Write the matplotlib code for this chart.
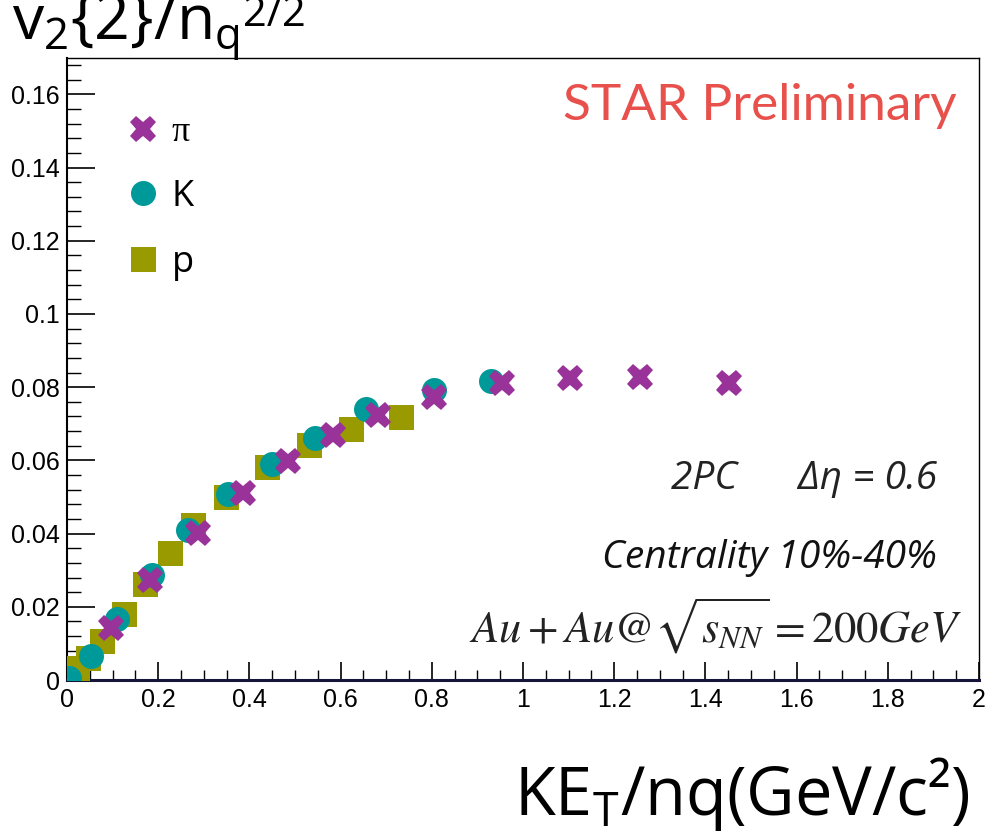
import numpy as np
import matplotlib.pyplot as plt
from matplotlib.ticker import MultipleLocator, FormatStrFormatter


# ================= data =================

pion_x = [0.097, 0.182, 0.288, 0.386, 0.485, 0.584, 0.683, 0.804, 0.955, 1.104, 1.256, 1.451]
pion_y = [0.0142, 0.0274, 0.0402, 0.0511, 0.0599, 0.0670, 0.0725, 0.0774, 0.0810, 0.0826, 0.0829, 0.0810]

kaon_x = [0.004, 0.053, 0.110, 0.187, 0.266, 0.353, 0.450, 0.544, 0.656, 0.804, 0.929]
kaon_y = [0.0005, 0.0066, 0.0167, 0.0287, 0.0410, 0.0509, 0.0591, 0.0662, 0.0739, 0.0793, 0.0818]

proton_x = [0.022, 0.046, 0.077, 0.125, 0.171, 0.226, 0.277, 0.349, 0.439, 0.531, 0.623, 0.733]
proton_y = [0.0033, 0.0060, 0.0107, 0.0181, 0.0263, 0.0347, 0.0424, 0.0501, 0.0583, 0.0643, 0.0687, 0.0719]

PION_COLOR = "#993399"
KAON_COLOR = "#009999"
PROTON_COLOR = "#999900"

SANS = ["Open Sans", "DejaVu Sans"]
LATO = ["Lato", "DejaVu Sans"]
TICK_FONT = ["Liberation Sans", "DejaVu Sans"]


# ================= figure =================

fig = plt.figure(figsize=(10, 8.36), dpi=100)
ax = fig.add_axes([0.067, 0.1866, 0.912, 0.7444])

ax.plot(proton_x, proton_y, "s", color=PROTON_COLOR, markersize=18,
        markeredgewidth=0, label="p", zorder=3)
ax.plot(kaon_x, kaon_y, "o", color=KAON_COLOR, markersize=18,
        markeredgewidth=0, label="K", zorder=4)
ax.plot(pion_x, pion_y, "X", color=PION_COLOR, markersize=19,
        markeredgewidth=0, label="\u03c0", zorder=5)

ax.set_xlim(0, 2)
ax.set_ylim(0, 0.17)

# ROOT-like ticks
ax.xaxis.set_major_locator(MultipleLocator(0.2))
ax.xaxis.set_minor_locator(MultipleLocator(0.05))
ax.yaxis.set_major_locator(MultipleLocator(0.02))
ax.yaxis.set_minor_locator(MultipleLocator(0.004))
ax.xaxis.set_major_formatter(FormatStrFormatter("%g"))
ax.yaxis.set_major_formatter(FormatStrFormatter("%g"))

ax.tick_params(axis="x", which="major", direction="in", length=13, width=1.2,
               pad=6, top=False, labelsize=18)
ax.tick_params(axis="x", which="minor", direction="in", length=7, width=1.0, top=False)
ax.tick_params(axis="y", which="major", direction="in", length=20, width=1.2,
               pad=5, right=False, labelsize=18)
ax.tick_params(axis="y", which="minor", direction="in", length=10, width=1.0, right=False)
for lab in ax.get_xticklabels() + ax.get_yticklabels():
    lab.set_family(TICK_FONT)

ax.spines["bottom"].set_linewidth(2.2)
ax.spines["bottom"].set_color("#15153a")
ax.spines["left"].set_linewidth(1.5)
ax.spines["top"].set_linewidth(1.0)
ax.spines["right"].set_linewidth(1.0)

# legend: pi, K, p
handles, labels = ax.get_legend_handles_labels()
leg = ax.legend(handles[::-1], labels[::-1], loc="upper left",
                bbox_to_anchor=(0.069, 0.906), frameon=False,
                prop={"family": SANS, "size": 26}, handlelength=0.75,
                handletextpad=0.4, labelspacing=0.82, borderpad=0,
                borderaxespad=0)
leg.get_texts()[0].set_family(["Liberation Serif", "DejaVu Serif"])

# annotations
ax.text(0.975, 0.90, "STAR Preliminary", transform=ax.transAxes,
        ha="right", va="baseline", color="#e8504b", fontsize=37, family=LATO)
ax.text(0.954, 0.307, "2PC      \u0394\u03b7 = 0.6", transform=ax.transAxes,
        ha="right", va="baseline", color="#222222", fontsize=28,
        family=SANS, style="italic")
ax.text(0.954, 0.180, "Centrality 10%-40%", transform=ax.transAxes,
        ha="right", va="baseline", color="#111111", fontsize=28,
        family=SANS, style="italic")
ax.text(0.982, 0.060, r"$Au + Au@\sqrt{s_{NN}} = 200GeV$", transform=ax.transAxes,
        ha="right", va="baseline", color="#222222", fontsize=32,
        math_fontfamily="stix")

# axis titles, ROOT style (exponent set a bit lower than mathtext would)
title = fig.text(0.012, 1 - 40 / 836,
                 r"v$_\mathregular{2}${2}/n$_\mathregular{q}$",
                 ha="left", va="baseline", fontsize=45, family=SANS)
fig.canvas.draw()
ext = title.get_window_extent()
fig.text((ext.x1 + 3) / 1000, 1 - 26 / 836, "2/2",
         ha="left", va="baseline", fontsize=30, family=SANS)

fig.text(0.970, 1 - 815 / 836, "KE$_\\mathregular{T}$/nq(GeV/c\u00b2)",
         ha="right", va="baseline", fontsize=48, family=SANS)

fig.savefig("out.png", dpi=100)
